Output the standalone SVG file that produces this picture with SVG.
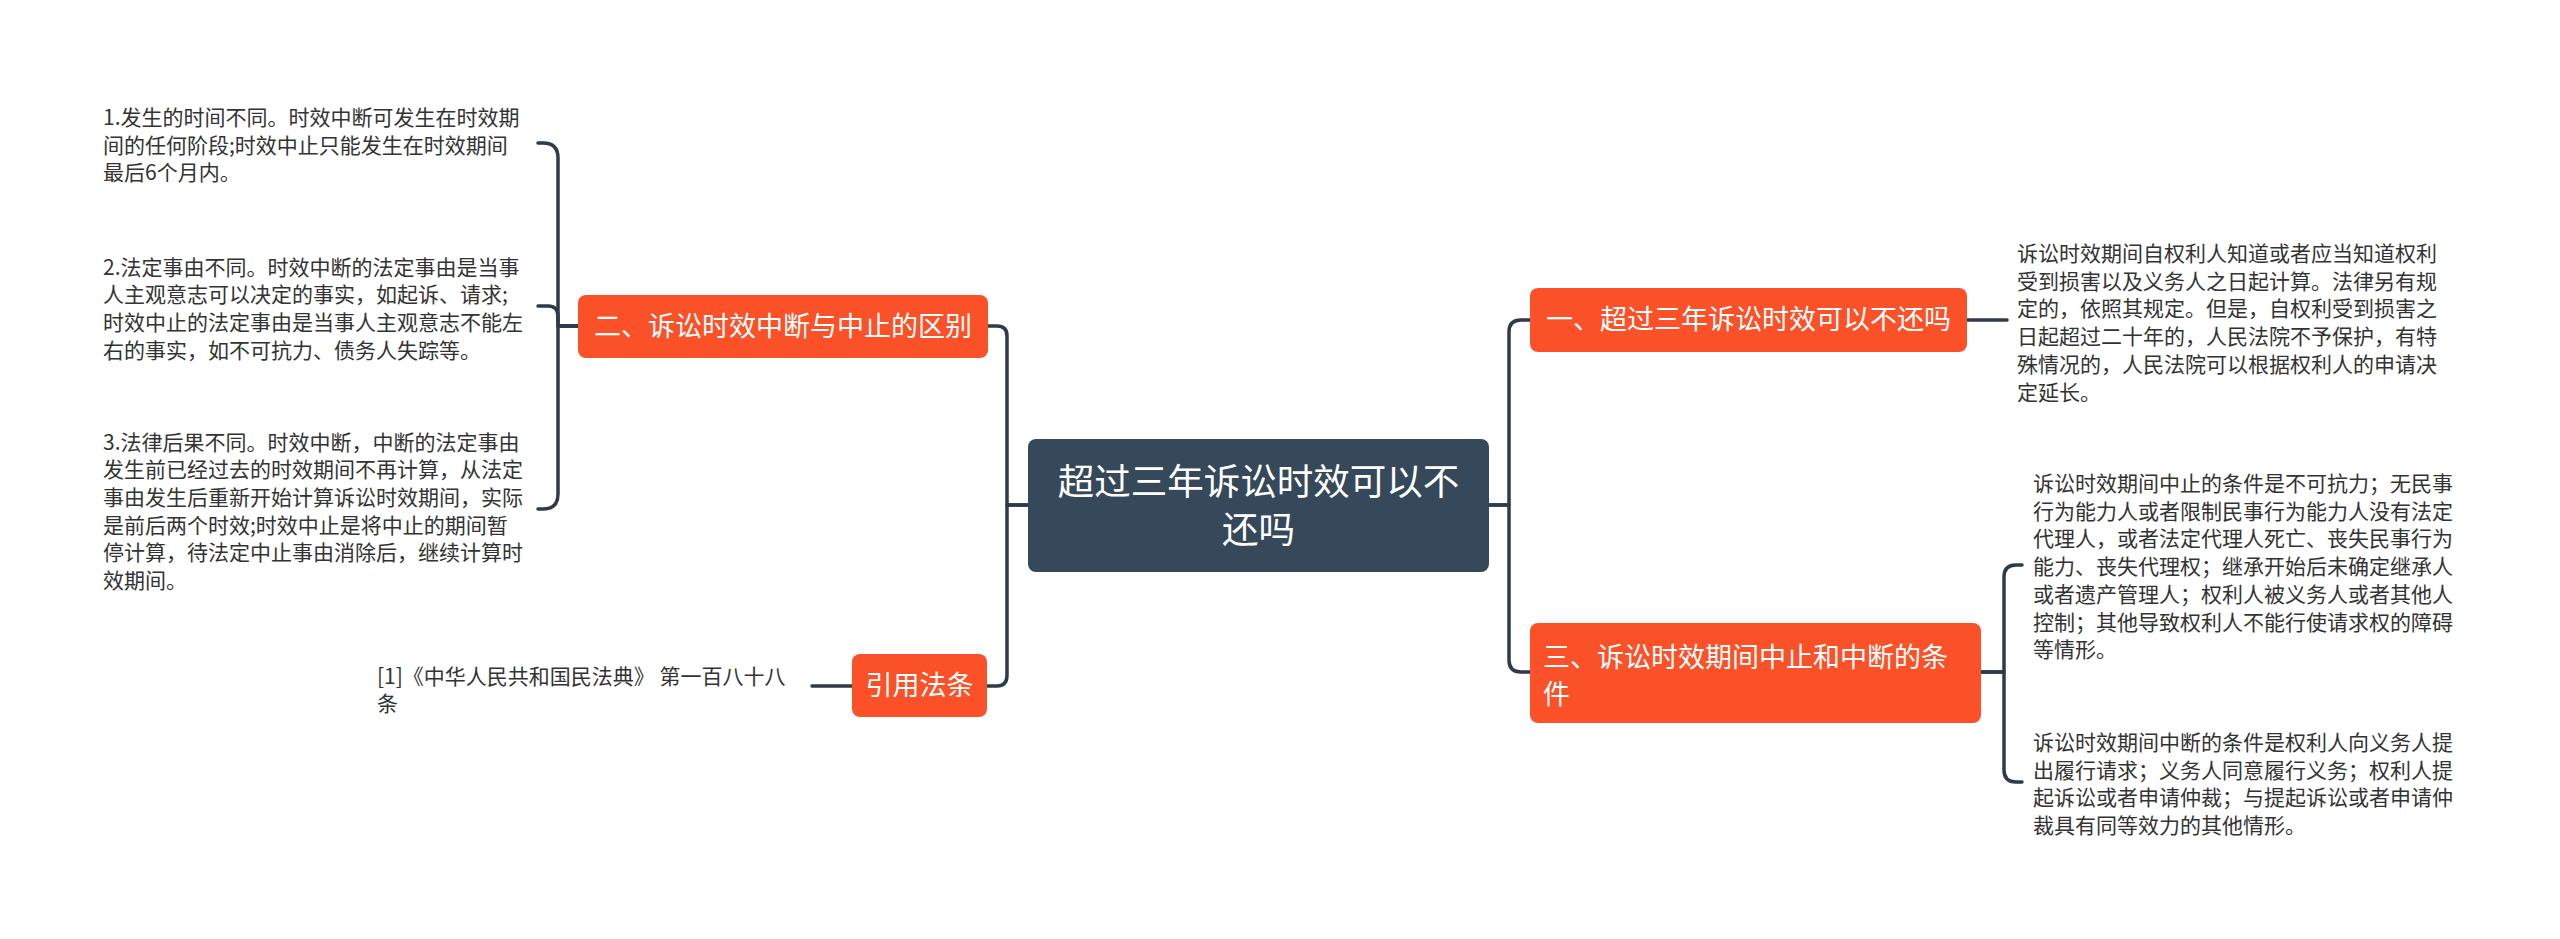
<svg xmlns="http://www.w3.org/2000/svg" width="2560" height="939" viewBox="0 0 2560 939">
<style>
.bg{fill:#ffffff}
.link{fill:none;stroke:#2e3b49;stroke-width:3.5;stroke-linecap:round;stroke-linejoin:round}
.root{fill:#36495a}
.main{fill:#fa5129}
.rt{fill:#ffffff;font-family:"Noto Sans CJK SC","Noto Sans",sans-serif;font-size:36.5px}
.mt{fill:#ffffff;font-family:"Noto Sans CJK SC","Noto Sans",sans-serif;font-size:27px}
.lt{fill:#333333;font-family:"Noto Sans CJK SC","Noto Sans",sans-serif;font-size:21px}
</style>
<rect class="bg" x="0" y="0" width="2560" height="939"/>
<g id="connectors">
<path class="link" d="M1028,505 H1007 V336 Q1007,326 997,326 H988"/>
<path class="link" d="M1028,505 H1007 V675 Q1007,686 997,686 H987"/>
<path class="link" d="M1489,505 H1509 V332 Q1509,320 1521,320 H1530"/>
<path class="link" d="M1489,505 H1509 V660 Q1509,672 1521,672 H1530"/>
<path class="link" d="M578,326 H558 V158 Q558,143 543,143 H538"/>
<path class="link" d="M578,326 H558 V316 Q558,306 548,306 H538"/>
<path class="link" d="M578,326 H558 V494 Q558,509 543,509 H538"/>
<path class="link" d="M852,686 H812"/>
<path class="link" d="M1967,320 H2007"/>
<path class="link" d="M1981,672 H2004 V577 Q2004,565 2016,565 H2022"/>
<path class="link" d="M1981,672 H2004 V770 Q2004,782 2016,782 H2022"/>
</g>
<g id="root">
<rect class="root" x="1028" y="439" width="461" height="133" rx="8"/>
<text class="rt" x="1258.5" y="495" text-anchor="middle">超过三年诉讼时效可以不</text>
<text class="rt" x="1258.5" y="543" text-anchor="middle">还吗</text>
</g>
<g id="n2">
<rect class="main" x="578" y="295" width="410" height="63" rx="8"/>
<text class="mt" x="783" y="336" text-anchor="middle">二、诉讼时效中断与中止的区别</text>
</g>
<g id="n-cite">
<rect class="main" x="852" y="654" width="135" height="63" rx="8"/>
<text class="mt" x="919.5" y="695" text-anchor="middle">引用法条</text>
</g>
<g id="n1">
<rect class="main" x="1530" y="288" width="437" height="64" rx="8"/>
<text class="mt" x="1748.5" y="329" text-anchor="middle">一、超过三年诉讼时效可以不还吗</text>
</g>
<g id="n3">
<rect class="main" x="1530" y="623" width="451" height="100" rx="8"/>
<text class="mt" x="1543" y="667">三、诉讼时效期间中止和中断的条</text>
<text class="mt" x="1543" y="704">件</text>
</g>
<g id="l1">
<text class="lt" x="103" y="125">1.发生的时间不同。时效中断可发生在时效期</text>
<text class="lt" x="103" y="152.7">间的任何阶段;时效中止只能发生在时效期间</text>
<text class="lt" x="103" y="180.4">最后6个月内。</text>
</g>
<g id="l2">
<text class="lt" x="103" y="274.5">2.法定事由不同。时效中断的法定事由是当事</text>
<text class="lt" x="103" y="302.2">人主观意志可以决定的事实，如起诉、请求;</text>
<text class="lt" x="103" y="329.9">时效中止的法定事由是当事人主观意志不能左</text>
<text class="lt" x="103" y="357.6">右的事实，如不可抗力、债务人失踪等。</text>
</g>
<g id="l3">
<text class="lt" x="103" y="449.5">3.法律后果不同。时效中断，中断的法定事由</text>
<text class="lt" x="103" y="477.2">发生前已经过去的时效期间不再计算，从法定</text>
<text class="lt" x="103" y="504.9">事由发生后重新开始计算诉讼时效期间，实际</text>
<text class="lt" x="103" y="532.6">是前后两个时效;时效中止是将中止的期间暂</text>
<text class="lt" x="103" y="560.3">停计算，待法定中止事由消除后，继续计算时</text>
<text class="lt" x="103" y="588">效期间。</text>
</g>
<g id="cite">
<text class="lt" x="377" y="684">[1]《中华人民共和国民法典》 第一百八十八</text>
<text class="lt" x="377" y="711">条</text>
</g>
<g id="r1">
<text class="lt" x="2017" y="261">诉讼时效期间自权利人知道或者应当知道权利</text>
<text class="lt" x="2017" y="288.7">受到损害以及义务人之日起计算。法律另有规</text>
<text class="lt" x="2017" y="316.4">定的，依照其规定。但是，自权利受到损害之</text>
<text class="lt" x="2017" y="344.1">日起超过二十年的，人民法院不予保护，有特</text>
<text class="lt" x="2017" y="371.8">殊情况的，人民法院可以根据权利人的申请决</text>
<text class="lt" x="2017" y="399.5">定延长。</text>
</g>
<g id="r2">
<text class="lt" x="2033" y="491">诉讼时效期间中止的条件是不可抗力；无民事</text>
<text class="lt" x="2033" y="518.7">行为能力人或者限制民事行为能力人没有法定</text>
<text class="lt" x="2033" y="546.4">代理人，或者法定代理人死亡、丧失民事行为</text>
<text class="lt" x="2033" y="574.1">能力、丧失代理权；继承开始后未确定继承人</text>
<text class="lt" x="2033" y="601.8">或者遗产管理人；权利人被义务人或者其他人</text>
<text class="lt" x="2033" y="629.5">控制；其他导致权利人不能行使请求权的障碍</text>
<text class="lt" x="2033" y="657.2">等情形。</text>
</g>
<g id="r3">
<text class="lt" x="2033" y="750">诉讼时效期间中断的条件是权利人向义务人提</text>
<text class="lt" x="2033" y="777.7">出履行请求；义务人同意履行义务；权利人提</text>
<text class="lt" x="2033" y="805.4">起诉讼或者申请仲裁；与提起诉讼或者申请仲</text>
<text class="lt" x="2033" y="833.1">裁具有同等效力的其他情形。</text>
</g>
</svg>
